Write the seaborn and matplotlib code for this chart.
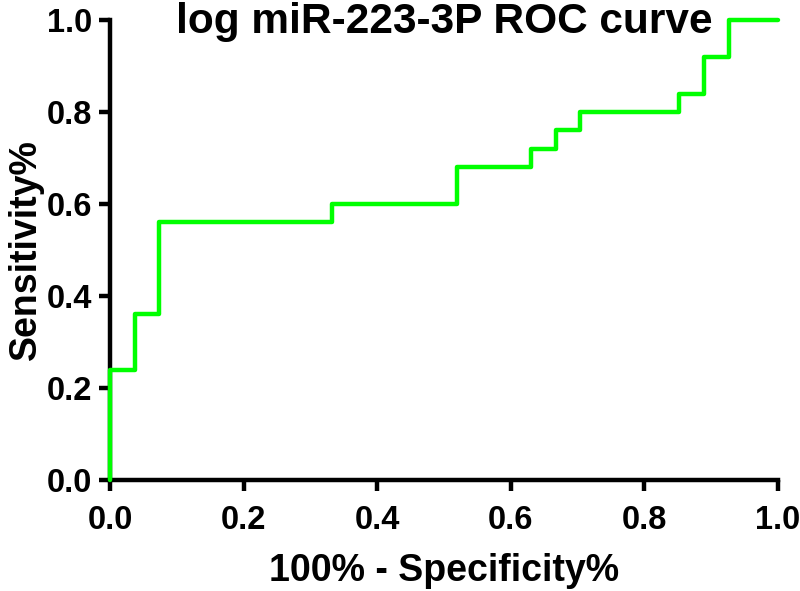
import matplotlib
matplotlib.use("Agg")
import matplotlib.pyplot as plt
import seaborn as sns

# -------------ROC data-------------
fpr = [0.0, 0.0, 0.037, 0.074, 0.333, 0.519, 0.630, 0.667, 0.704, 0.852, 0.889, 0.926, 1.0]
tpr = [0.0, 0.24, 0.36, 0.56, 0.60, 0.68, 0.72, 0.76, 0.80, 0.84, 0.92, 1.0, 1.0]
ticks = [0.0, 0.2, 0.4, 0.6, 0.8, 1.0]
tick_labels = ["0.0", "0.2", "0.4", "0.6", "0.8", "1.0"]

title = "log miR-223-3P ROC curve"
x_label = "100% - Specificity%"
y_label = "Sensitivity%"

sns.set_style("ticks")
plt.rcParams["font.family"] = ["Liberation Sans", "DejaVu Sans"]
plt.rcParams["font.weight"] = "bold"
plt.rcParams["text.color"] = "black"
plt.rcParams["axes.labelcolor"] = "black"

fig, axes = plt.subplots(figsize=(8, 5.91), dpi=100)
fig.subplots_adjust(left=0.1375, right=0.9725, bottom=0.1878, top=0.9662)

sns.lineplot(x=fpr, y=tpr, ax=axes, estimator=None, sort=False,
             drawstyle="steps-post", color="#00ff00", linewidth=3.2,
             clip_on=False, zorder=5)

axes.set(xlim=(0, 1), ylim=(0, 1), xticks=ticks, yticks=ticks)
axes.set_xticklabels(tick_labels, fontsize=23.5, fontweight="bold")
axes.set_yticklabels(tick_labels, fontsize=23.5, fontweight="bold")

for axis in ["left", "bottom"]:
    axes.spines[axis].set_linewidth(3.2)
    axes.spines[axis].set_color("black")
axes.spines["top"].set_visible(False)
axes.spines["right"].set_visible(False)
axes.tick_params(axis="both", width=3.2, length=8, colors="black", labelcolor="black")
axes.tick_params(axis="x", pad=10)
axes.tick_params(axis="y", pad=5)

axes.set_xlabel(x_label, fontsize=27, fontweight="bold", labelpad=12)
axes.set_ylabel(y_label, fontsize=27, fontweight="bold", labelpad=2)

axes.text(0.5, 0.972, title, transform=axes.transAxes, ha="center",
          va="baseline", fontsize=30.5, fontweight="bold", zorder=6)

fig.savefig("out.png", dpi=100)
